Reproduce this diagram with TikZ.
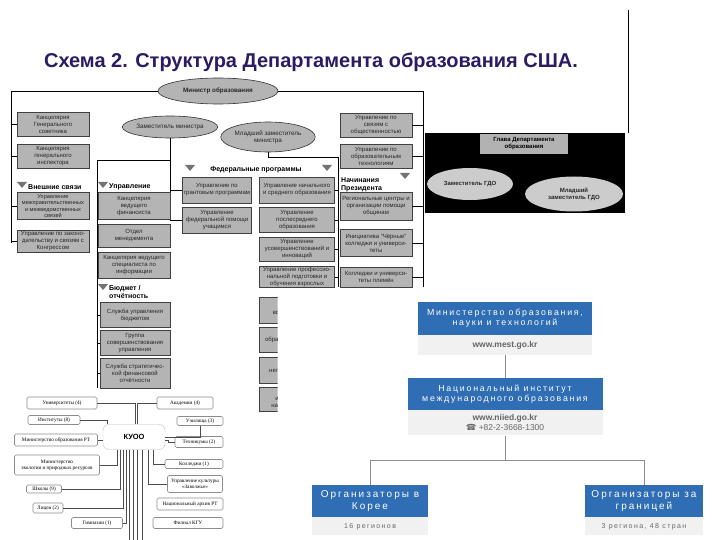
\documentclass[tikz,border=0pt]{standalone}
\usepackage{fontspec}
\setmainfont{Liberation Sans}
\newfontfamily\kuoofont{Liberation Serif}
\newfontfamily\symbfont{DejaVu Sans}
\newfontfamily\widefont[LetterSpace=20]{Liberation Sans}
\usetikzlibrary{positioning,shapes.geometric,calc}

\definecolor{titleblue}{RGB}{43,27,98}
\definecolor{boxgray}{RGB}{180,180,180}
\definecolor{korblue}{RGB}{47,110,180}
\definecolor{korgray}{RGB}{241,241,241}

\tikzstyle{office}=[rectangle, draw=black!75, fill=boxgray, line width=0.7pt, minimum width=72, minimum height=24, inner sep=1pt, align=center, text=black!85, font=\fontsize{6}{7}\selectfont]
\tikzstyle{chief}=[ellipse, draw=black!80, fill=boxgray, line width=0.6pt, inner sep=0pt, align=center, text=black!85, font=\fontsize{6.3}{7.3}\selectfont]
\tikzstyle{head}=[anchor=west, inner sep=0pt, align=left, font=\bfseries\fontsize{7}{8}\selectfont]
\tikzstyle{tri}=[fill=black!55]
\tikzstyle{frame}=[black, line width=0.8pt]
\tikzstyle{org}=[rectangle, rounded corners=1.5pt, draw=black!45, line width=0.6pt, fill=white, inner sep=1pt, align=center, font=\kuoofont\fontsize{5.2}{6}\selectfont]
\tikzstyle{link}=[black!70, line width=0.5pt]
\tikzstyle{korbox}=[rectangle, fill=korblue, text=white, align=center, inner sep=0pt, font=\widefont\fontsize{8.8}{10.5}\selectfont]
\tikzstyle{korinfo}=[rectangle, fill=korgray, text=black!60, align=center, inner sep=0pt, font=\fontsize{8.5}{10}\selectfont]
\tikzstyle{korlink}=[black!45, line width=0.6pt]

\begin{document}
\begin{tikzpicture}[x=1pt, y=-1pt]
  \useasboundingbox (0,0) rectangle (720,540);

  %Title
  \node[font=\bfseries\fontsize{20}{24}\selectfont, text=titleblue] (title) at (311,62) {Схема 2. Структура Департамента образования США.};
  \coordinate (rule-top) at (628,10);
  \coordinate (rule-bot) at (628,133);
  \draw[frame] (rule-top) -- (rule-bot);

  %Heads
  \node[chief, minimum width=120, minimum height=26, font=\bfseries\fontsize{6.3}{7.3}\selectfont] (minister) at (218,91) {Министр образования};
  \node[chief, minimum width=88, minimum height=22] (deputy) at (170,127) {Заместитель министра};
  \node[chief, minimum width=90, minimum height=30] (junior) at (268,137) {Младший заместитель\\министра};

  %Frame lines
  \coordinate (fl-top) at (11,91);
  \coordinate (fl-bot) at (11,243);
  \coordinate (fr-top) at (423,91);
  \coordinate (fr-bot) at (423,287);
  \coordinate (mg-top) at (97,160);
  \coordinate (mg-bot) at (97,388);
  \coordinate (fp-bot) at (170,221);
  \coordinate (jr-knee) at (338,157);
  \coordinate (jr-bot) at (338,287);
  \draw[frame] (minister.west) -- (fl-top) -- (fl-bot);
  \draw[frame] (minister.east) -- (fr-top) -- (fr-bot);
  \draw[frame] (deputy.south) |- (mg-top) -- (mg-bot);
  \draw[frame] (deputy.south) -- (fp-bot);
  \draw[frame] (junior.south) |- (jr-knee) -- (jr-bot);

  %Header marks
  \foreach \tx/\ty in {22/185, 103/185, 103/287, 190/168, 327/168, 405/176}
    \fill[tri] (\tx-5,\ty-3) -- (\tx+5,\ty-3) -- (\tx,\ty+3) -- cycle;
  \node[head] (hd-ext) at (28,187) {Внешние связи};
  \node[head] (hd-mgmt) at (109,187) {Управление};
  \node[head] (hd-budget) at (109,292) {Бюджет /\\отчётность};
  \node[head, anchor=center] (hd-fed) at (256,170) {Федеральные программы};
  \node[head] (hd-pres) at (341,185) {Начинания\\Президента};

  %Left column
  \node[office] (counsel) at (53,124) {Канцелярия\\Генерального\\советника};
  \node[office] (inspector) at (53,156) {Канцелярия\\генерального\\инспектора};
  \node[office, minimum height=27, font=\fontsize{5.6}{6.3}\selectfont] (intergov) at (53,206) {Управление\\межправительственных\\и межведомственных\\связей};
  \node[office, minimum height=22] (legis) at (53,241) {Управление по законо-\\дательству и связям с\\Конгрессом};

  %Management column
  \node[office, minimum height=27] (cfo) at (134,206) {Канцелярия\\ведущего\\финансиста};
  \node[office, minimum height=23] (mgmt) at (134,236) {Отдел\\менеджмента};
  \node[office, minimum height=26] (cio) at (134,265) {Канцелярия ведущего\\специалиста по\\информации};
  \node[office, minimum width=70, minimum height=25] (budget) at (135,315) {Служба управления\\бюджетом};
  \node[office, minimum width=70, minimum height=25] (improve) at (135,343) {Группа\\совершенствования\\управления};
  \node[office, minimum width=70, minimum height=30] (strategic) at (135,373) {Служба стратегичес-\\кой финансовой\\отчётности};

  %Federal programs
  \node[office, minimum width=69, minimum height=26] (grants) at (217,190) {Управление по\\грантовым программам};
  \node[office, minimum width=69, minimum height=26] (aid) at (217,220) {Управление\\федеральной помощи\\учащимся};
  \node[office, minimum width=75, minimum height=26] (elem) at (297,190) {Управление начального\\и среднего образования};
  \node[office, minimum width=75, minimum height=25] (postsec) at (297,220) {Управление\\послесреднего\\образования};
  \node[office, minimum width=75, minimum height=24] (innov) at (297,249) {Управление\\усовершенствований и\\инноваций};
  \node[office, minimum width=75, minimum height=21] (vocational) at (297,277) {Управление профессио-\\нальной подготовки и\\обучения взрослых};
  \begin{scope}
    \clip (250,292) rectangle (277.5,415);
    \node[office, minimum width=75, minimum height=26] (cut-a) at (297,310) {Управление\\вопросами языка};
    \node[office, minimum width=75, minimum height=25] (cut-b) at (297,340) {образования взрослых};
    \node[office, minimum width=75, minimum height=26] (cut-c) at (297,370) {Управление\\негосударственного\\хозяйства};
    \node[office, minimum width=75, minimum height=24] (cut-d) at (297,399) {Безопасные\\и свободные от\\наркотиков школы};
  \end{scope}

  %President initiatives
  \node[office] (public) at (376,125) {Управление по\\связям с\\общественностью};
  \node[office] (tech) at (376,156) {Управление по\\образовательным\\технологиям};
  \node[office, minimum height=28] (regional) at (376,206) {Региональные центры и\\организации помощи\\общинам};
  \node[office, minimum height=27] (hbcu) at (376,243) {Инициатива "Чёрные"\\колледжи и универси-\\теты};
  \node[office, minimum height=20] (tribal) at (376,277) {Колледжи и универси-\\теты племён};

  %Ticks to frame
  \foreach \n in {counsel,inspector,intergov,legis}
    \draw[frame] (\n.west) -- (\n.west -| fl-top);
  \foreach \n in {cfo,mgmt,cio,budget,improve,strategic}
    \draw[frame] (\n.west) -- (\n.west -| mg-top);
  \foreach \n in {grants,aid}
    \draw[frame] (\n.west) -- (\n.west -| fp-bot);
  \foreach \n in {elem,postsec,innov,vocational}
    \draw[frame] (\n.east) -- (\n.east -| jr-knee);
  \foreach \n in {public,tech,regional,hbcu,tribal}
    \draw[frame] (\n.east) -- (\n.east -| fr-top);

  %Black panel
  \node[fill=black, minimum width=200, minimum height=80, inner sep=0pt] (panel) at (525,173) {};
  \node[fill=black!30, minimum width=88, minimum height=20, inner sep=0pt, align=center, font=\bfseries\fontsize{6}{7}\selectfont] (dept-head) at (524,144) {Глава Департамента\\образования};
  \node[chief, draw=none, fill=black!20, minimum width=86, minimum height=32, font=\bfseries\fontsize{6}{7}\selectfont] (gdo-dep) at (470,184) {Заместитель ГДО};
  \node[chief, draw=none, fill=black!20, minimum width=98, minimum height=35, font=\bfseries\fontsize{6}{7}\selectfont] (gdo-jr) at (574,194) {Младший\\заместитель ГДО};

  %KUOO
  \node[rectangle, rounded corners=6pt, draw=black!25, minimum width=62, minimum height=25, font=\bfseries\fontsize{7.5}{8}\selectfont] (kuoo) at (134,437) {КУОО};
  \node[org, minimum width=70, minimum height=12] (univ) at (62,403) {Университеты (4)};
  \node[org, minimum width=56, minimum height=12] (acad) at (185,403) {Академии (4)};
  \node[org, minimum width=52, minimum height=9] (inst) at (54,420) {Институты (8)};
  \node[org, minimum width=46, minimum height=9] (uchil) at (200,421) {Училища (3)};
  \node[org, minimum width=83, minimum height=12] (minobr) at (56,440) {Министерство образования РТ};
  \node[org, minimum width=48, minimum height=11] (tekh) at (199,442) {Техникумы (2)};
  \node[org, minimum width=85, minimum height=20] (mineco) at (57,465) {Министерство\\экологии и природных ресурсов};
  \node[org, minimum width=58, minimum height=9] (college) at (194,464) {Колледжи (1)};
  \node[org, minimum width=35, minimum height=8] (schools) at (44,489) {Школы (9)};
  \node[org, minimum width=55, minimum height=17] (culture) at (195,484) {Управление культуры\\«Заволжье»};
  \node[org, minimum width=30, minimum height=10] (lyc) at (48,508) {Лицеи (2)};
  \node[org, minimum width=66, minimum height=12] (archive) at (190,504) {Национальный архив РТ};
  \node[org, minimum width=51, minimum height=11] (gymn) at (97,523) {Гимназии (1)};
  \node[org, minimum width=70, minimum height=11] (filial) at (188,523) {Филиал КГУ};
  \draw[link] (univ.east) -| ([xshift=1pt]kuoo.north);
  \draw[link] (acad.west) -| ([xshift=3pt]kuoo.north);
  \draw[link] (inst.east) -| ([xshift=-27pt]kuoo.north);
  \draw[link] (minobr.east) -- (minobr.east -| kuoo.west);
  \draw[link] (mineco.east) -| ([xshift=-17pt]kuoo.south);
  \draw[link] (schools.east) -| ([xshift=-14pt]kuoo.south);
  \draw[link] (lyc.east) -| ([xshift=-11pt]kuoo.south);
  \draw[link] (gymn.east) -| ([xshift=-8pt]kuoo.south);
  \foreach \dx/\nm in {-5/a, -1/b, 3/c, 8/d} {
    \coordinate (drop-\nm) at ($(kuoo.south)+(\dx,92)$);
    \draw[link] ([xshift=\dx pt]kuoo.south) -- (drop-\nm);
  }
  \draw[link] (kuoo.east) -| (uchil.south);
  \draw[link] (tekh.west) -- ++(-6,0) |- ([yshift=-3pt]kuoo.east);
  \draw[link] (college.west) -| ([xshift=19pt]kuoo.south);
  \draw[link] (culture.west) -| ([xshift=14pt]kuoo.south);

  %Korean chart
  \node[korbox, minimum width=174, minimum height=33] (mest) at (505,318) {Министерство образования,\\науки и технологий};
  \node[korinfo, minimum width=174, minimum height=20, below=0pt of mest, font=\bfseries\fontsize{8.5}{10}\selectfont] (mest-web) {www.mest.go.kr};
  \node[korbox, minimum width=195, minimum height=32] (niied) at (505,394) {Национальный институт\\международного образования};
  \node[korinfo, minimum width=195, minimum height=25, below=0pt of niied] (niied-web) {\textbf{www.niied.go.kr}\\{\symbfont ☎} +82-2-3668-1300};
  \node[korbox, minimum width=116, minimum height=32, font=\widefont\fontsize{10}{12}\selectfont] (korea) at (370,501) {Организаторы в\\Корее};
  \node[korinfo, minimum width=116, minimum height=18, below=0pt of korea, font=\widefont\fontsize{7}{8}\selectfont] (korea-num) {16 регионов};
  \node[korbox, minimum width=118, minimum height=32, font=\widefont\fontsize{10}{12}\selectfont] (abroad) at (644,501) {Организаторы за\\границей};
  \node[korinfo, minimum width=118, minimum height=18, below=0pt of abroad, font=\widefont\fontsize{7}{8}\selectfont] (abroad-num) {3 региона, 48 стран};
  \coordinate (split) at (505,460);
  \draw[korlink] (mest-web) -- (niied);
  \draw[korlink] (niied-web) -- (split);
  \draw[korlink] (split) -| (korea);
  \draw[korlink] (split) -| (abroad);
\end{tikzpicture}
\end{document}
